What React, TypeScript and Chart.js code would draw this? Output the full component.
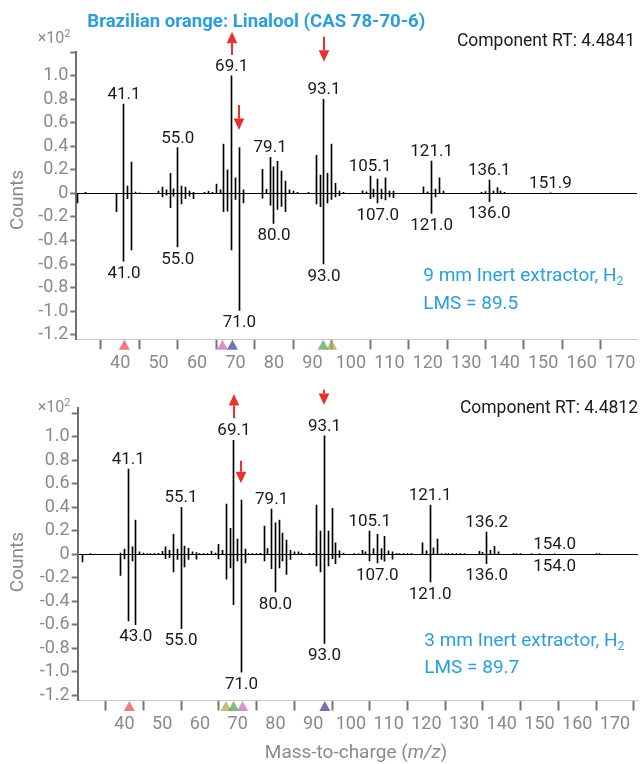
import React, { useEffect, useRef } from 'react';
import { Chart, registerables } from 'chart.js';

Chart.register(...registerables);

const FONT = 'Roboto, "Noto Sans", sans-serif';
const BLUE = '#2a9fd9';
const GRAY = '#8a8a8a';
const RED = '#e8312a';
const INK = '#1a1a1a';

// ---------- shared axis ticks ----------
const xTickValues = [30, 40, 50, 60, 70, 80, 90, 100, 110, 120, 130, 140, 150, 160, 170];
const yTickValues = [-1.2, -1.0, -0.8, -0.6, -0.4, -0.2, 0, 0.2, 0.4, 0.6, 0.8, 1.0, 1.2];

// ---------- panel 1: 9 mm Inert extractor ----------
const p1SampleMz = [
  31, 41, 42, 43, 44, 45,
  50, 51, 52, 53, 54, 55, 56, 57, 58, 59,
  62, 63, 64, 65, 66, 67, 68, 69, 70, 71, 72,
  77, 78, 79, 80, 81, 82, 83, 84, 85, 86,
  89,
  91, 92, 93, 94, 95, 96, 97, 98,
  103, 104, 105, 106, 107, 108, 109, 110, 111,
  119, 120, 121, 122, 123, 124,
  134, 135, 136, 137, 138, 139, 140,
  151.9,
];
const p1SampleAbund = [
  0.01, 0.76, 0.062, 0.267, 0.012, 0.006,
  0.02, 0.054, 0.03, 0.17, 0.04, 0.39, 0.062, 0.054, 0.02, 0.01,
  0.009, 0.017, 0.01, 0.08, 0.03, 0.42, 0.2, 1.0, 0.133, 0.39, 0.03,
  0.204, 0.034, 0.306, 0.227, 0.272, 0.19, 0.105, 0.03, 0.02, 0.01,
  0.01,
  0.323, 0.156, 0.8, 0.17, 0.42, 0.085, 0.02, 0.01,
  0.023, 0.014, 0.147, 0.037, 0.122, 0.037, 0.133, 0.02, 0.02,
  0.057, 0.014, 0.275, 0.037, 0.133, 0.02,
  0.01, 0.015, 0.113, 0.02, 0.05, 0.02, 0.01,
  0.003,
];
const p1LibMz = [
  29, 39, 41, 42, 43,
  51, 52, 53, 54, 55, 56, 57, 58, 59,
  67, 68, 69, 70, 71, 72,
  77, 79, 80, 81, 82, 83,
  91, 92, 93, 94, 95, 96, 97,
  105, 106, 107, 108, 109, 110, 111,
  121, 122,
  136,
];
const p1LibAbund = [
  -0.08, -0.156, -0.576, -0.045, -0.48,
  -0.03, -0.014, -0.122, -0.023, -0.454, -0.09, -0.045, -0.023, -0.045,
  -0.156, -0.15, -0.48, -0.05, -0.995, -0.08,
  -0.04, -0.1, -0.255, -0.136, -0.11, -0.156,
  -0.09, -0.113, -0.6, -0.08, -0.05, -0.03, -0.02,
  -0.045, -0.03, -0.08, -0.045, -0.055, -0.03, -0.037,
  -0.17, -0.03,
  -0.07,
];
const p1UpLabelMz = [41, 55, 69, 79, 93, 105, 121, 136, 151.9];
const p1UpLabels = ['41.1', '55.0', '69.1', '79.1', '93.1', '105.1', '121.1', '136.1', '151.9'];
const p1DownLabelMz = [41, 55, 71, 80, 93, 107, 121, 136];
const p1DownLabels = ['41.0', '55.0', '71.0', '80.0', '93.0', '107.0', '121.0', '136.0'];
const p1ArrowMz = [69, 71, 93];
const p1ArrowFrom = [1.177, 0.751, 1.333];
const p1ArrowTo = [1.375, 0.539, 1.12];
const p1MarkerMz = [41.1, 66.6, 69.2, 92.8, 95.0];
const p1MarkerColors = ['rgba(240,90,90,0.8)', 'rgba(200,110,190,0.75)', 'rgba(80,80,170,0.8)', 'rgba(80,170,80,0.75)', 'rgba(170,170,80,0.75)'];
const p1RT = 'Component RT: 4.4841';
const p1Method = '9 mm Inert extractor, H';
const p1LMS = 'LMS = 89.5';

// ---------- panel 2: 3 mm Inert extractor ----------
const p2SampleMz = [
  31, 39, 40, 41, 42, 43, 44, 45, 46, 47, 48, 49,
  50, 51, 52, 53, 54, 55, 56, 57, 58, 59,
  60, 61, 62, 63, 64, 65, 66, 67, 68, 69, 70, 71, 72,
  73, 74, 75, 76, 77, 78, 79, 80, 81, 82, 83, 84, 85, 86, 87,
  89, 90,
  91, 92, 93, 94, 95, 96, 97, 98,
  101, 102, 103, 104, 105, 106, 107, 108, 109, 110, 111, 112, 113, 114, 115, 116,
  119, 120, 121, 122, 123, 124, 125, 126, 127, 128, 129, 130,
  134, 135, 136, 137, 138, 139,
  143, 144, 145, 148, 150, 154, 165, 166,
];
const p2SampleAbund = [
  0.005, 0.01, 0.043, 0.724, 0.062, 0.29, 0.02, 0.01, 0.006, 0.006, 0.006, 0.008,
  0.025, 0.062, 0.034, 0.17, 0.043, 0.4, 0.07, 0.05, 0.02, 0.014,
  0.006, 0.006, 0.006, 0.025, 0.01, 0.085, 0.034, 0.426, 0.22, 0.97, 0.128, 0.46, 0.043,
  0.006, 0.006, 0.006, 0.008, 0.24, 0.048, 0.384, 0.267, 0.29, 0.18, 0.12, 0.034, 0.02, 0.02, 0.01,
  0.008, 0.008,
  0.418, 0.196, 1.008, 0.196, 0.39, 0.097, 0.028, 0.01,
  0.005, 0.006, 0.034, 0.02, 0.196, 0.048, 0.17, 0.048, 0.153, 0.028, 0.02, 0.006, 0.006, 0.006, 0.006, 0.006,
  0.097, 0.028, 0.418, 0.054, 0.128, 0.006, 0.005, 0.005, 0.005, 0.005, 0.005, 0.005,
  0.025, 0.017, 0.188, 0.034, 0.068, 0.02,
  0.005, 0.005, 0.005, 0.005, 0.005, 0.004, 0.005, 0.005,
];
const p2LibMz = [
  29, 39, 40, 41, 42, 43,
  51, 52, 53, 54, 55, 56, 57, 59,
  65, 67, 68, 69, 70, 71, 72,
  77, 79, 80, 81, 82, 83, 84,
  91, 92, 93, 94, 95, 96, 97,
  105, 107, 108, 109, 111,
  121,
  136,
  154,
];
const p2LibAbund = [
  -0.065, -0.18, -0.04, -0.568, -0.057, -0.6,
  -0.037, -0.03, -0.15, -0.045, -0.634, -0.108, -0.045, -0.043,
  -0.04, -0.213, -0.117, -0.43, -0.057, -1.003, -0.074,
  -0.057, -0.122, -0.32, -0.117, -0.057, -0.173, -0.045,
  -0.1, -0.15, -0.76, -0.1, -0.037, -0.08, -0.028,
  -0.057, -0.074, -0.045, -0.06, -0.043,
  -0.236,
  -0.08,
  -0.004,
];
const p2UpLabelMz = [41, 55, 69, 79, 93, 105, 121, 136, 154];
const p2UpLabels = ['41.1', '55.1', '69.1', '79.1', '93.1', '105.1', '121.1', '136.2', '154.0'];
const p2DownLabelMz = [43, 55, 71, 80, 93, 107, 121, 136, 154];
const p2DownLabels = ['43.0', '55.0', '71.0', '80.0', '93.0', '107.0', '121.0', '136.0', '154.0'];
const p2ArrowMz = [69, 71, 93];
const p2ArrowFrom = [1.157, 0.795, 1.4];
const p2ArrowTo = [1.364, 0.603, 1.27];
const p2MarkerMz = [41.3, 66.9, 68.9, 71.3, 93.1];
const p2MarkerColors = ['rgba(240,90,90,0.8)', 'rgba(170,170,80,0.75)', 'rgba(80,170,80,0.75)', 'rgba(200,110,190,0.75)', 'rgba(80,80,170,0.8)'];
const p2RT = 'Component RT: 4.4812';
const p2Method = '3 mm Inert extractor, H';
const p2LMS = 'LMS = 89.7';

const TITLE = 'Brazilian orange: Linalool (CAS 78-70-6)';

type Part = { t: string; size: number; dy?: number; italic?: boolean; bold?: boolean };

function drawParts(ctx: CanvasRenderingContext2D, parts: Part[], x: number, y: number, align: 'left' | 'right' | 'center') {
  const fontOf = (p: Part) => `${p.italic ? 'italic ' : ''}${p.bold ? 'bold ' : ''}${p.size}px ${FONT}`;
  let total = 0;
  const widths = parts.map((p) => {
    ctx.font = fontOf(p);
    const w = ctx.measureText(p.t).width;
    total += w;
    return w;
  });
  let cx = align === 'left' ? x : align === 'right' ? x - total : x - total / 2;
  ctx.textAlign = 'left';
  ctx.textBaseline = 'alphabetic';
  parts.forEach((p, i) => {
    ctx.font = fontOf(p);
    ctx.fillText(p.t, cx, y + (p.dy || 0));
    cx += widths[i];
  });
}

type PanelCfg = {
  top: number;
  height: number;
  padTop: number;
  padRight: number;
  padBottom: number;
  yWidth: number;
  xHeight: number;
  xMin: number;
  xMax: number;
  yMin: number;
  yMax: number;
  sampleMz: number[];
  sampleAbund: number[];
  libMz: number[];
  libAbund: number[];
  upLabelMz: number[];
  upLabels: string[];
  downLabelMz: number[];
  downLabels: string[];
  arrowMz: number[];
  arrowFrom: number[];
  arrowTo: number[];
  markerMz: number[];
  markerColors: string[];
  rt: string;
  rtX: number;
  rtY: number;
  method: string;
  lms: string;
  methodX: number;
  methodY: number;
  lmsY: number;
  expY: number;
  countsDy: number;
  title?: boolean;
  xTitle?: boolean;
};

function Panel({ cfg }: { cfg: PanelCfg }) {
  const ref = useRef<HTMLCanvasElement>(null);
  useEffect(() => {
    const canvas = ref.current;
    if (!canvas) return;
    const crisp = {
      id: 'crisp',
      beforeDatasetsDraw(chart: any) {
        chart.data.datasets.forEach((_: any, i: number) => {
          chart.getDatasetMeta(i).data.forEach((el: any) => {
            el.x = Math.floor(el.x) + 0.5;
          });
        });
      },
    };
    const annot = {
      id: 'annot',
      afterDraw(chart: any) {
        const ctx: CanvasRenderingContext2D = chart.ctx;
        const xs = chart.scales.x;
        const ys = chart.scales.y;
        const ca = chart.chartArea;
        ctx.save();
        // peak labels
        ctx.fillStyle = INK;
        ctx.font = `17px ${FONT}`;
        ctx.textAlign = 'center';
        ctx.textBaseline = 'alphabetic';
        cfg.upLabelMz.forEach((m, i) => {
          const v = cfg.sampleAbund[cfg.sampleMz.indexOf(m)];
          ctx.fillText(cfg.upLabels[i], xs.getPixelForValue(m), ys.getPixelForValue(v) - 5);
        });
        cfg.downLabelMz.forEach((m, i) => {
          const v = cfg.libAbund[cfg.libMz.indexOf(m)];
          ctx.fillText(cfg.downLabels[i], xs.getPixelForValue(m), ys.getPixelForValue(v) + 16.7);
        });
        // arrows
        ctx.strokeStyle = RED;
        ctx.fillStyle = RED;
        ctx.lineWidth = 2;
        cfg.arrowMz.forEach((m, i) => {
          const x = Math.round(xs.getPixelForValue(m));
          const y0 = ys.getPixelForValue(cfg.arrowFrom[i]);
          const y1 = ys.getPixelForValue(cfg.arrowTo[i]);
          const dir = y1 < y0 ? -1 : 1;
          const head = 11.5;
          ctx.beginPath();
          ctx.moveTo(x, y0);
          ctx.lineTo(x, y1 - dir * head);
          ctx.stroke();
          ctx.beginPath();
          ctx.moveTo(x, y1);
          ctx.lineTo(x - 5.3, y1 - dir * head);
          ctx.lineTo(x + 5.3, y1 - dir * head);
          ctx.closePath();
          ctx.fill();
        });
        // compound markers on the mass axis
        cfg.markerMz.forEach((m, i) => {
          const x = xs.getPixelForValue(m);
          ctx.fillStyle = cfg.markerColors[i];
          ctx.beginPath();
          ctx.moveTo(x, ca.bottom + 0.5);
          ctx.lineTo(x - 5.5, ca.bottom + 10.5);
          ctx.lineTo(x + 5.5, ca.bottom + 10.5);
          ctx.closePath();
          ctx.fill();
        });
        // texts
        ctx.fillStyle = INK;
        drawParts(ctx, [{ t: cfg.rt, size: 17.5 }], cfg.rtX, cfg.rtY, 'right');
        ctx.fillStyle = BLUE;
        drawParts(ctx, [{ t: cfg.method, size: 19 }, { t: '2', size: 12, dy: 4 }], cfg.methodX, cfg.methodY, 'left');
        drawParts(ctx, [{ t: cfg.lms, size: 19 }], cfg.methodX, cfg.lmsY, 'left');
        ctx.fillStyle = GRAY;
        drawParts(ctx, [{ t: '×10', size: 16 }, { t: '2', size: 11, dy: -6 }], 70.5, cfg.expY, 'right');
        ctx.save();
        ctx.translate(23.3, (ca.top + ca.bottom) / 2 + cfg.countsDy);
        ctx.rotate(-Math.PI / 2);
        drawParts(ctx, [{ t: 'Counts', size: 19 }], 0, 0, 'center');
        ctx.restore();
        if (cfg.title) {
          ctx.fillStyle = BLUE;
          drawParts(ctx, [{ t: TITLE, size: 18.6, bold: true }], 87.3, 27, 'left');
        }
        if (cfg.xTitle) {
          ctx.fillStyle = GRAY;
          drawParts(
            ctx,
            [
              { t: 'Mass-to-charge (', size: 19 },
              { t: 'm/z', size: 19, italic: true },
              { t: ')', size: 19 },
            ],
            356,
            cfg.height - 6,
            'center'
          );
        }
        ctx.restore();
      },
    };

    const chart = new Chart(canvas, {
      type: 'bar',
      data: {
        datasets: [
          {
            data: cfg.sampleMz.map((m, i) => ({ x: m, y: cfg.sampleAbund[i] })),
            backgroundColor: '#000',
            borderWidth: 0,
            barThickness: 1,
            grouped: false,
          } as any,
          {
            data: cfg.libMz.map((m, i) => ({ x: m, y: cfg.libAbund[i] })),
            backgroundColor: '#000',
            borderWidth: 0,
            barThickness: 1,
            grouped: false,
          } as any,
        ],
      },
      options: {
        responsive: false,
        animation: false,
        devicePixelRatio: 1,
        layout: { padding: { top: cfg.padTop, right: cfg.padRight, bottom: cfg.padBottom, left: 0 } },
        plugins: { legend: { display: false }, tooltip: { enabled: false }, title: { display: false } },
        scales: {
          x: {
            type: 'linear',
            min: cfg.xMin,
            max: cfg.xMax,
            offset: false,
            afterBuildTicks: (s: any) => {
              s.ticks = xTickValues.map((v) => ({ value: v }));
            },
            afterFit: (s: any) => {
              s.height = cfg.xHeight;
            },
            grid: {
              drawOnChartArea: false,
              drawTicks: true,
              tickLength: 10,
              tickWidth: 2,
              tickColor: '#777',
              color: '#777',
            },
            border: { display: true, color: '#c8c8c8', width: 1 },
            ticks: {
              autoSkip: false,
              maxRotation: 0,
              minRotation: 0,
              padding: 3,
              color: GRAY,
              font: { family: FONT, size: 18 },
              callback: (v: any) => (v === 30 ? '' : String(v)),
            },
          },
          y: {
            type: 'linear',
            min: cfg.yMin,
            max: cfg.yMax,
            afterBuildTicks: (s: any) => {
              s.ticks = yTickValues.map((v) => ({ value: v }));
            },
            afterFit: (s: any) => {
              s.width = cfg.yWidth;
            },
            grid: {
              drawOnChartArea: true,
              color: (c: any) => (c.tick && Math.abs(c.tick.value) < 1e-9 ? '#000' : 'rgba(0,0,0,0)'),
              lineWidth: 1,
              drawTicks: true,
              tickLength: 6,
              tickWidth: 2,
              tickColor: '#777',
            },
            border: { display: true, color: '#707070', width: 2 },
            ticks: {
              autoSkip: false,
              padding: 2,
              color: GRAY,
              font: { family: FONT, size: 18 },
              callback: (v: any) => {
                const n = Number(v);
                if (Math.abs(n - 1.2) < 1e-6) return '';
                if (Math.abs(n) < 1e-9) return '0';
                return n.toFixed(1);
              },
            },
          },
        },
      } as any,
      plugins: [crisp, annot],
    });
    return () => chart.destroy();
  }, [cfg]);
  return (
    <div style={{ position: 'absolute', left: 0, top: cfg.top, width: 642, height: cfg.height }}>
      <canvas ref={ref} width={642} height={cfg.height} style={{ width: 642, height: cfg.height, display: 'block' }} />
    </div>
  );
}

const panel1: PanelCfg = {
  top: 0,
  height: 370,
  padTop: 51.7,
  padRight: 5,
  padBottom: 0,
  yWidth: 76.3,
  xHeight: 30.7,
  xMin: 28.6,
  xMax: 174.4,
  yMin: -1.24,
  yMax: 1.205,
  sampleMz: p1SampleMz,
  sampleAbund: p1SampleAbund,
  libMz: p1LibMz,
  libAbund: p1LibAbund,
  upLabelMz: p1UpLabelMz,
  upLabels: p1UpLabels,
  downLabelMz: p1DownLabelMz,
  downLabels: p1DownLabels,
  arrowMz: p1ArrowMz,
  arrowFrom: p1ArrowFrom,
  arrowTo: p1ArrowTo,
  markerMz: p1MarkerMz,
  markerColors: p1MarkerColors,
  rt: p1RT,
  rtX: 635,
  rtY: 46,
  method: p1Method,
  lms: p1LMS,
  methodX: 423.3,
  methodY: 281,
  lmsY: 308.7,
  expY: 43.3,
  countsDy: 4.5,
  title: true,
};

const panel2: PanelCfg = {
  top: 370,
  height: 394,
  padTop: 37.7,
  padRight: 4,
  padBottom: 29.5,
  yWidth: 77.7,
  xHeight: 34,
  xMin: 27.6,
  xMax: 176.1,
  yMin: -1.245,
  yMax: 1.247,
  sampleMz: p2SampleMz,
  sampleAbund: p2SampleAbund,
  libMz: p2LibMz,
  libAbund: p2LibAbund,
  upLabelMz: p2UpLabelMz,
  upLabels: p2UpLabels,
  downLabelMz: p2DownLabelMz,
  downLabels: p2DownLabels,
  arrowMz: p2ArrowMz,
  arrowFrom: p2ArrowFrom,
  arrowTo: p2ArrowTo,
  markerMz: p2MarkerMz,
  markerColors: p2MarkerColors,
  rt: p2RT,
  rtX: 638,
  rtY: 43.3,
  method: p2Method,
  lms: p2LMS,
  methodX: 424.3,
  methodY: 276,
  lmsY: 303.3,
  expY: 41.7,
  countsDy: 8,
  xTitle: true,
};

export default function App() {
  return (
    <div style={{ position: 'absolute', left: 0, top: 0, width: 642, height: 764, background: '#fff' }}>
      <Panel cfg={panel1} />
      <Panel cfg={panel2} />
    </div>
  );
}
